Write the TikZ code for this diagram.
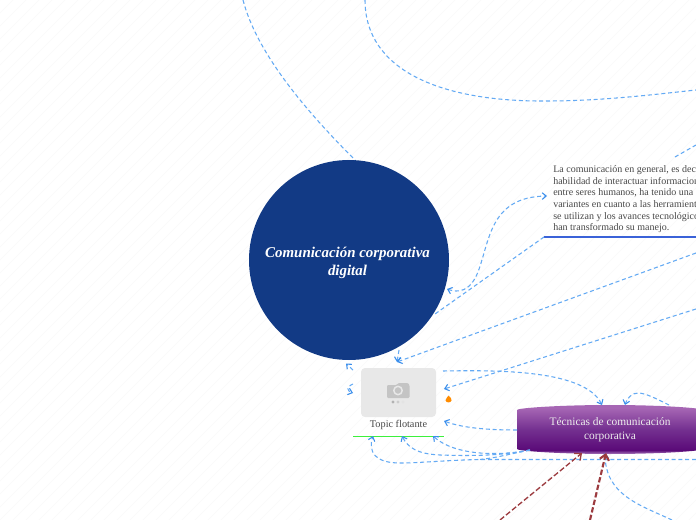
\documentclass[tikz,border=0pt]{standalone}
\usepackage{fontspec}
\setmainfont{Liberation Serif}
\usetikzlibrary{arrows.meta}
\definecolor{techrim}{HTML}{A878BC}
\definecolor{techdark}{HTML}{5A0A78}
\definecolor{techmid}{HTML}{743090}
\definecolor{techtop}{HTML}{A666B4}
\definecolor{hubblue}{HTML}{123A85}
\definecolor{linkblue}{HTML}{64AAF4}
\definecolor{tipblue}{HTML}{3A8EEC}
\definecolor{darkred}{HTML}{9C3B3F}
\definecolor{hatch}{HTML}{FAFAFA}
\definecolor{txtgrey}{HTML}{484848}
\definecolor{ruleblue}{HTML}{3A62D8}
\definecolor{rulegreen}{HTML}{3CF03C}
\pgfdeclareverticalshading{techshade}{100bp}{color(0bp)=(techrim); color(25bp)=(techrim); color(29bp)=(techdark); color(50bp)=(techmid); color(72bp)=(techtop); color(75bp)=(techtop); color(100bp)=(techtop)}
\tikzset{
  x=0.75pt,y=-0.75pt,
  link/.style={draw=linkblue,line width=0.8pt,dash pattern=on 3pt off 2.1pt},
  tipped/.style={link,-{Straight Barb[length=3pt,width=5pt,color=tipblue]}},
  redlink/.style={draw=darkred,dash pattern=on 4pt off 1.8pt,-{Straight Barb[length=4pt,width=7pt]}},
}
\begin{document}
\begin{tikzpicture}
\useasboundingbox (0,0) rectangle (696,520);
\clip (0,0) rectangle (696,520);
\fill[white] (0,0) rectangle (696,520);
\foreach \k in {0,13,...,1216} {\draw[hatch,line width=0.4pt] (\k,0) -- (\k-520,520);}

% nodes
\node[circle,fill=hubblue,minimum size=150pt,inner sep=0pt] (hub) at (349,260) {};
\node[inner sep=0pt,text=white,align=center,font=\fontsize{11.2pt}{12.9pt}\selectfont\bfseries\itshape] (hublabel) at (347.5,263) {Comunicación corporativa\\digital};

\node[anchor=north west,inner sep=0pt,align=left,text=txtgrey,font=\fontsize{7.5pt}{8.7pt}\selectfont] (txt) at (553,165.5) {La comunicación en general, es dec\\habilidad de interactuar informacion\\entre seres humanos, ha tenido una\\variantes en cuanto a las herramient\\se utilizan y los avances tecnológicos\\han transformado su manejo.};
\coordinate (txtleft) at (544,237);
\coordinate (txtright) at (696,237);
\draw[draw=ruleblue,line width=0.8pt] (txtleft) -- (txtright);

\node[draw=none,fill=black!9,rounded corners=3pt,minimum width=56.25pt,minimum height=36.75pt,inner sep=0pt] (photo) at (398.5,392.5) {};
\node[inner sep=0pt,text=txtgrey,font=\fontsize{7.7pt}{9pt}\selectfont] (cap) at (398.5,425) {Topic flotante};
\coordinate (greenl) at (353,436.5);
\coordinate (greenr) at (444,436.5);
\draw[draw=rulegreen,line width=0.7pt] (greenl) -- (greenr);
% camera icon
\fill[black!23,rounded corners=0.8pt] (387,385) -- (397,385) -- (398,383) -- (408,383) -- (409.5,385) -- (409.5,398) -- (387,398) -- cycle;
\draw[black!9,line width=1.1pt] (398,390.5) circle (4.2);
\fill[black!30] (393,402) circle (1.6);
\fill[black!20] (398,402) circle (1.6);
\fill[black!11] (403,402) circle (1.6);
% orange mark
\fill[orange!90!yellow] (448.5,395.5) .. controls (450.5,397.5) and (452,399) .. (451.5,400.5) .. controls (451,403) and (446,403) .. (445.5,400.5) .. controls (445.5,398.5) and (447.5,397.5) .. (448.5,395.5) -- cycle;

\shade[shading=techshade] (517,410) .. controls (517,408) and (560,405) .. (610,405) .. controls (660,405) and (703,408) .. (703,410) -- (703,449) .. controls (703,451) and (660,454) .. (610,454) .. controls (560,454) and (517,451) .. (517,449) -- cycle;
\node[inner sep=0pt,text=white!93!black,align=center,font=\fontsize{8.55pt}{10.5pt}\selectfont] (tech) at (610,430) {Técnicas de comunicación\\corporativa};

% free ends
\coordinate (a1) at (243,0);
\coordinate (a2) at (355,160);
\coordinate (b1) at (365,0);
\coordinate (b2) at (696,90);
\coordinate (c1) at (675,157);
\coordinate (c2) at (696,145);
\coordinate (d1) at (447,289);
\coordinate (d2) at (547,196);
\coordinate (e2) at (435,314);
\coordinate (f1) at (696,253);
\coordinate (f2) at (397,362);
\coordinate (f3) at (399,350);
\coordinate (g1) at (696,309);
\coordinate (g2) at (444,389);
\coordinate (h1) at (443,371);
\coordinate (h2) at (602,405);
\coordinate (i1) at (669,405);
\coordinate (i2) at (625,405);
\coordinate (j1) at (517,430);
\coordinate (j2) at (444,421);
\coordinate (k1) at (530,450);
\coordinate (k2) at (433,436);
\coordinate (l2) at (402,436);
\coordinate (m1) at (696,459.5);
\coordinate (m2) at (373,436);
\coordinate (n1) at (353,370);
\coordinate (n2) at (346,363.5);
\coordinate (o1) at (353,384);
\coordinate (o2) at (353,393);
\coordinate (p1) at (500,520);
\coordinate (p2) at (582,453);
\coordinate (q1) at (590,520);
\coordinate (q2) at (606,453);
\coordinate (r1) at (672,520);

% connectors
\draw[link] (a1) .. controls (256,50) and (300,105) .. (a2);
\draw[link] (b1) .. controls (365,70) and (440,102) .. (547,101) .. controls (600,101) and (650,95) .. (b2);
\draw[link] (c1) -- (c2);
\draw[link,{Straight Barb[length=3pt,width=5pt,color=tipblue]}-{Straight Barb[length=3pt,width=5pt,color=tipblue]}] (d1) .. controls (458,293) and (470,292) .. (478,272) .. controls (490,240) and (490,197) .. (d2);
\draw[link] (txtleft) -- (e2);
\draw[tipped] (f1) -- (f2);
\draw[tipped] (f3) -- (f2);
\draw[tipped] (g1) -- (g2);
\draw[tipped] (h1) .. controls (500,370) and (585,370) .. (h2);
\draw[tipped] (i1) .. controls (655,398) and (645,393) .. (638,393) .. controls (632,393) and (627,398) .. (i2);
\draw[tipped] (j1) .. controls (495,430) and (465,429) .. (j2);
\draw[tipped] (k1) .. controls (500,456) and (455,456) .. (k2);
\draw[tipped] (k1) .. controls (500,456) and (470,456) .. (440,455) .. controls (418,454) and (408,448) .. (l2);
\draw[tipped] (m1) -- (480,459.5) .. controls (450,460) and (420,463) .. (400,463) .. controls (375,463) and (368,452) .. (m2);
\draw[link] (k1) .. controls (510,454) and (495,458) .. (480,459.5);
\draw[tipped] (n1) -- (n2);
\draw[tipped] (o1) .. controls (346,387) and (347,391) .. (o2);
\draw[tipped] (r1) .. controls (640,505) and (605,495) .. (605,453);
\draw[redlink,line width=1pt] (p1) -- (p2);
\draw[redlink,line width=1.6pt] (q1) -- (q2);
\end{tikzpicture}
\end{document}
